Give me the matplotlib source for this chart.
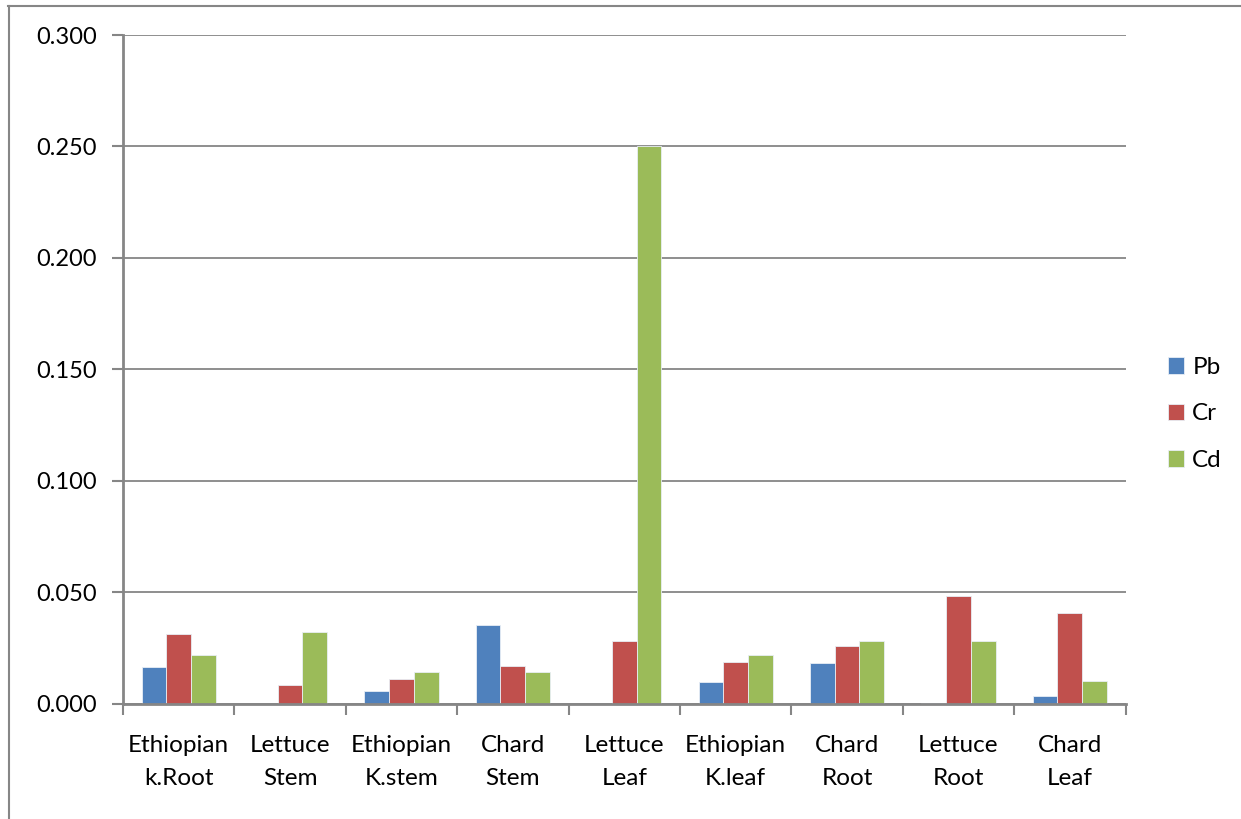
import matplotlib.pyplot as plt
import matplotlib.ticker as ticker
import numpy as np
from matplotlib.lines import Line2D

# Data
categories = ['Ethiopian\nk.Root', 'Lettuce\nStem', 'Ethiopian\nK.stem', 'Chard\nStem',
              'Lettuce\nLeaf', 'Ethiopian\nK.leaf', 'Chard\nRoot', 'Lettuce\nRoot', 'Chard\nLeaf']
pb = [0.0162, 0.0, 0.0055, 0.0353, 0.0, 0.0097, 0.0180, 0.0003, 0.0033]
cr = [0.0311, 0.0082, 0.0110, 0.0167, 0.0281, 0.0187, 0.0257, 0.0483, 0.0405]
cd = [0.0218, 0.0320, 0.0140, 0.0140, 0.2500, 0.0218, 0.0279, 0.0279, 0.0099]
series_names = ['Pb', 'Cr', 'Cd']
series_colors = ['#4F81BD', '#C0504D', '#9BBB59']
y_ticks = [0.0, 0.05, 0.10, 0.15, 0.20, 0.25, 0.30]

GRAY = '#868686'
W, H = 1241, 819
FS = 17.5

plt.rcParams['font.family'] = ['Lato', 'DejaVu Sans']
fig = plt.figure(figsize=(W / 100, H / 100), dpi=100)
fig.patch.set_facecolor('white')

# chart border (top and left edges)
fig.add_artist(Line2D([8 / W, 1.0], [1 - 5.5 / H, 1 - 5.5 / H], transform=fig.transFigure,
                      color=GRAY, lw=1.5))
fig.add_artist(Line2D([8.5 / W, 8.5 / W], [0.0, 1 - 5.5 / H], transform=fig.transFigure,
                      color=GRAY, lw=1.5))

left, right, top, bottom = 123, 1125.5, 35, 703.5
ax = fig.add_axes([left / W, 1 - bottom / H, (right - left) / W, (bottom - top) / H])

n = len(categories)
x = np.arange(n)
bar_w = 1 / 4.5
for i, (vals, name, col) in enumerate(zip([pb, cr, cd], series_names, series_colors)):
    ax.bar(x + (i - 1) * bar_w, vals, width=bar_w, color=col, edgecolor='#E8EEF5',
           linewidth=0.6, label=name, zorder=3)

ax.set_xlim(-0.5, n - 0.5)
ax.set_ylim(0, 0.30)
ax.yaxis.set_major_locator(ticker.FixedLocator(y_ticks))
ax.yaxis.set_major_formatter(ticker.FormatStrFormatter('%.3f'))
ax.grid(axis='y', color=GRAY, lw=1.3, zorder=0)

# category boundary ticks
ax.set_xticks(np.arange(-0.5, n, 1.0))
ax.set_xticklabels([])
ax.set_xticks(x, minor=True)
ax.set_xticklabels(categories, minor=True, fontsize=FS, linespacing=1.68)
ax.tick_params(axis='x', which='major', length=8, width=1.5, color=GRAY)
ax.tick_params(axis='x', which='minor', length=0, pad=23)
ax.tick_params(axis='y', length=8, width=1.5, color=GRAY, labelsize=17, pad=11)

for s in ['top', 'right']:
    ax.spines[s].set_visible(False)
for s in ['left', 'bottom']:
    ax.spines[s].set_color(GRAY)
    ax.spines[s].set_linewidth(2)
    ax.spines[s].set_zorder(4)

leg = ax.legend(loc='center left', bbox_to_anchor=(1168 / W, 1 - 414 / H),
                bbox_transform=fig.transFigure, frameon=False, fontsize=FS,
                handlelength=0.65, handleheight=0.65, labelspacing=1.05, handletextpad=0.35,
                borderaxespad=0, borderpad=0)

fig.savefig('out.png', dpi=100)
